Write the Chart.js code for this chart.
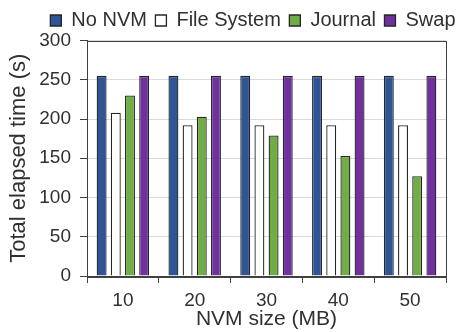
<!DOCTYPE html>
<html>
<head>
<meta charset="utf-8">
<script src="https://cdn.jsdelivr.net/npm/chart.js@4"></script>
<style>
html,body{margin:0;padding:0;background:#fff;}
#wrap{width:464px;height:332px;position:relative;}
</style>
</head>
<body>
<div id="wrap"><canvas id="c" width="464" height="332"></canvas></div>
<script>
const categories = ["10", "20", "30", "40", "50"];
const noNvm = [255, 255, 255, 255, 255];
const fileSystem = [208, 192, 192, 192, 192];
const journal = [230, 203, 179, 153, 127];
const swap = [255, 255, 255, 255, 255];
const seriesNames = ["No NVM", "File System", "Journal", "Swap"];
const yTicks = [0, 50, 100, 150, 200, 250, 300];

const FONT = "'Liberation Sans', Arial, sans-serif";
const TEXT = '#303030';
const frame = {
  id: 'frame',
  afterDatasetsDraw(chart) {
    const a = chart.chartArea, ctx = chart.ctx;
    ctx.save();
    ctx.strokeStyle = '#404040';
    ctx.lineWidth = 1;
    ctx.strokeRect(Math.round(a.left) + 0.5, Math.round(a.top) + 0.5,
      Math.round(a.right - a.left), Math.round(a.bottom - a.top));
    ctx.restore();
  }
};

const mk = (label, data, color) => ({
  label, data, backgroundColor: color, borderColor: '#262626', borderWidth: 1.3,
  barPercentage: 0.70, categoryPercentage: 0.79, yAxisID: 'y'
});

new Chart(document.getElementById('c'), {
  type: 'bar',
  data: {
    labels: categories,
    datasets: [
      mk(seriesNames[0], noNvm, '#2E5597'),
      mk(seriesNames[1], fileSystem, '#FFFFFF'),
      mk(seriesNames[2], journal, '#70AD47'),
      mk(seriesNames[3], swap, '#7030A0')
    ]
  },
  plugins: [frame],
  options: {
    responsive: false,
    animation: false,
    devicePixelRatio: 1,
    layout: { padding: { left: 6, right: 0, top: 2, bottom: 0 } },
    plugins: {
      tooltip: { enabled: false },
      legend: {
        position: 'top',
        align: 'end',
        labels: {
          font: { family: FONT, size: 20 },
          color: TEXT,
          boxWidth: 11, boxHeight: 11,
          padding: 8.5,
          useBorderRadius: false
        }
      }
    },
    scales: {
      x: {
        grid: { display: true, drawOnChartArea: false, drawTicks: true, tickLength: 7, tickColor: '#404040', offset: true },
        border: { display: true, color: '#404040', width: 1 },
        ticks: { font: { family: FONT, size: 19 }, color: TEXT, padding: 6 },
        title: { display: true, text: 'NVM size (MB)', font: { family: FONT, size: 21 }, color: TEXT, padding: { top: 0, bottom: 0 } },
        afterFit(s) { s.height = 56; }
      },
      y: {
        position: 'left',
        min: 0, max: 300,
        afterBuildTicks(s) { s.ticks = yTicks.map(v => ({ value: v })); },
        grid: { color: '#D9D9D9', lineWidth: 1, tickLength: 7, tickColor: '#404040' },
        border: { display: true, color: '#404040', width: 1 },
        ticks: { font: { family: FONT, size: 19 }, color: TEXT, padding: 9 },
        title: { display: true, text: 'Total elapsed time (s)', font: { family: FONT, size: 22 }, color: TEXT, padding: { top: 0, bottom: 1 } },
        afterFit(s) { s.width = 81; }
      },
      yRight: {
        position: 'right',
        display: true,
        grid: { display: false },
        border: { display: false },
        ticks: { display: false },
        afterFit(s) { s.width = 18; }
      }
    }
  }
});
</script>
</body>
</html>
